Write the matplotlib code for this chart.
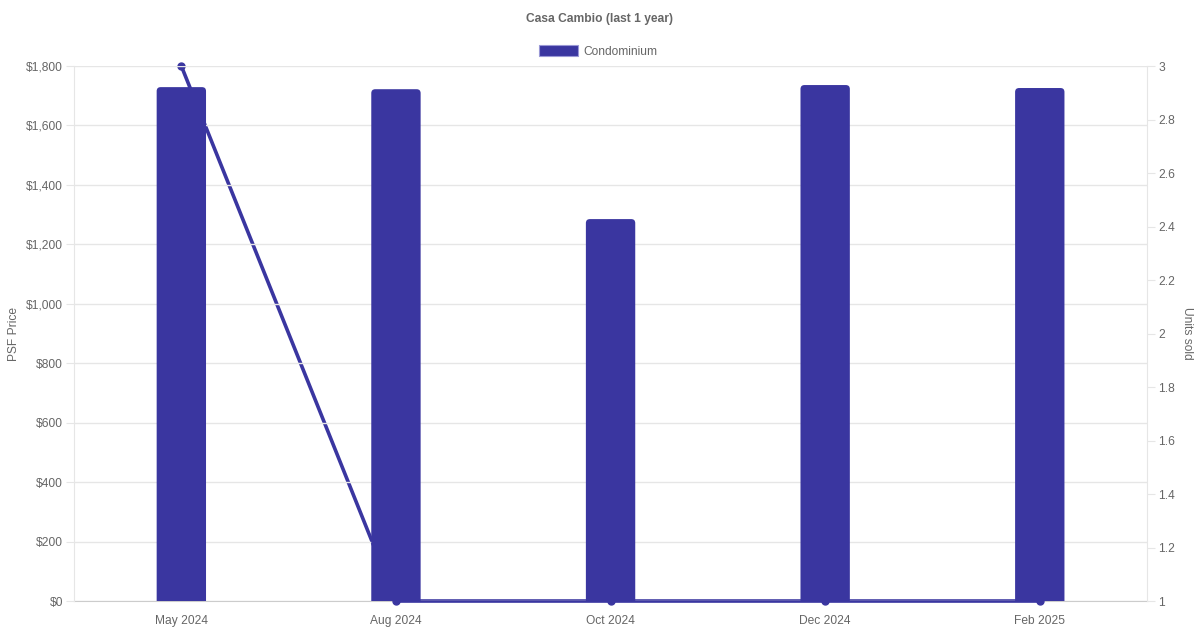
import matplotlib
matplotlib.use("Agg")
import matplotlib.pyplot as plt
import matplotlib.ticker as ticker
from matplotlib.patches import FancyBboxPatch, Patch

plt.rcParams["font.family"] = ["Liberation Sans", "DejaVu Sans"]

months = ["May 2024", "Aug 2024", "Oct 2024", "Dec 2024", "Feb 2025"]
psf_price = [1729, 1722, 1285, 1736, 1726]
units_sold = [3, 1, 1, 1, 1]

BAR_COLOR = "#3a36a0"
GRID = "#e6e6e6"
TXT = "#666666"
FS = 8.65

fig = plt.figure(figsize=(12, 6.3), dpi=100)
ax = fig.add_axes([0.0617, 0.0460, 0.8942, 0.8492])
ax2 = ax.twinx()

# line sits behind the bars
ax2.set_zorder(ax.get_zorder() - 1)
ax.patch.set_visible(False)
ax2.patch.set_facecolor("white")

x = list(range(len(months)))
ax.set_xlim(-0.5, len(months) - 0.5)
ax.set_ylim(0, 1800)
ax2.set_ylim(1, 3)

# rounded-top bars
bar_w = 0.23
px_x = 1073 / len(months)      # px per x unit
px_y = 535 / 1800              # px per dollar
aspect = (1 / px_y) / (1 / px_x)
r = 4 / px_x
for xi, v in zip(x, psf_price):
    p = FancyBboxPatch((xi - bar_w / 2, -40), bar_w, v + 40,
                       boxstyle=f"round,pad=0,rounding_size={r}",
                       mutation_aspect=aspect,
                       facecolor=BAR_COLOR, edgecolor="none", zorder=3)
    ax.add_patch(p)

ax2.plot(x, units_sold, color=BAR_COLOR, linewidth=2.6, marker="o",
         markersize=5, clip_on=False, zorder=3)

ax.yaxis.set_major_locator(ticker.MultipleLocator(200))
ax.yaxis.set_major_formatter(ticker.FuncFormatter(lambda v, p: f"${v:,.0f}"))
ax2.yaxis.set_major_locator(ticker.MultipleLocator(0.2))
ax2.yaxis.set_major_formatter(ticker.FuncFormatter(lambda v, p: f"{v:.1f}".rstrip("0").rstrip(".")))

ax.set_xticks(x)
ax.set_xticklabels(months)

ax.grid(axis="y", color=GRID, linewidth=1)
ax.set_axisbelow(True)
for a in (ax, ax2):
    for s in a.spines.values():
        s.set_visible(False)
ax.spines["left"].set_visible(True)
ax2.spines["bottom"].set_visible(True)
ax2.spines["right"].set_visible(True)
ax.spines["left"].set_color(GRID)
ax2.spines["bottom"].set_color("#cccccc")
ax2.spines["bottom"].set_zorder(1)
ax2.spines["right"].set_color(GRID)

ax.tick_params(axis="y", length=6, color=GRID, labelcolor=TXT, labelsize=FS, pad=2)
ax.tick_params(axis="x", length=0, labelcolor=TXT, labelsize=FS, pad=10)
ax2.tick_params(axis="x", length=0, labelbottom=False)
ax2.tick_params(axis="y", length=6, color=GRID, labelcolor=TXT, labelsize=FS, pad=2)

ax.set_ylabel("PSF Price", color=TXT, fontsize=FS, labelpad=4.5)
ax2.set_ylabel("Units sold", color=TXT, fontsize=FS, rotation=270, labelpad=13)

fig.text(0.5, 0.970, "Casa Cambio (last 1 year)", ha="center", va="center",
         color=TXT, fontsize=FS, fontweight="bold")

handle = Patch(facecolor=BAR_COLOR, edgecolor="#9a98d6", linewidth=0.8)
fig.legend([handle], ["Condominium"], loc="center", bbox_to_anchor=(0.4985, 0.918),
           frameon=False, fontsize=FS, labelcolor=TXT, handlelength=3.3,
           handleheight=1.0, handletextpad=0.45)

fig.savefig("out.png", dpi=100)
